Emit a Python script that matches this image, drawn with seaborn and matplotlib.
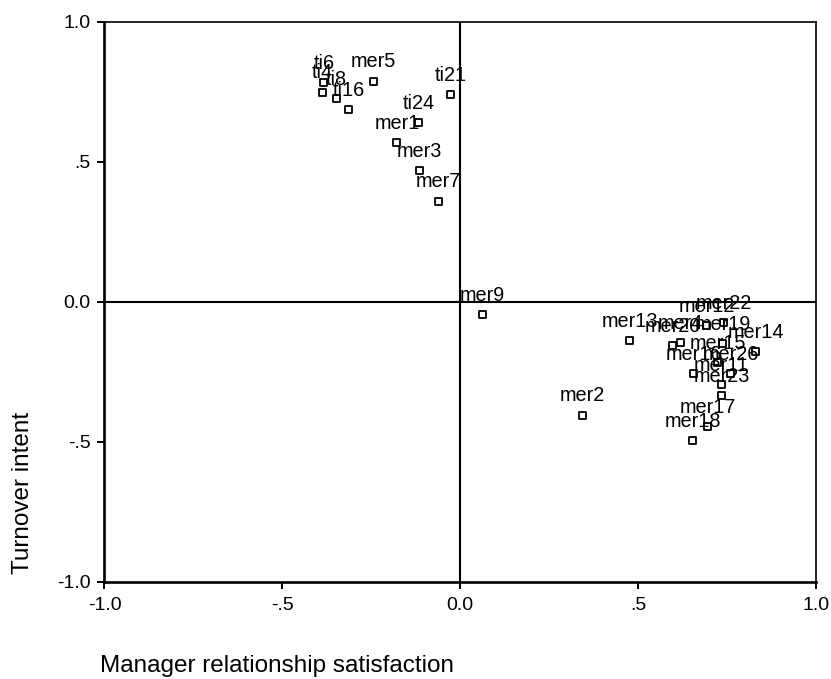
import matplotlib
matplotlib.use("Agg")
import matplotlib.pyplot as plt
import seaborn as sns
import pandas as pd
from matplotlib.ticker import FixedLocator, FixedFormatter

# ---- data ----
labels = ["ti6", "ti4", "ti8", "ti16", "mer5", "ti21", "ti24", "mer1", "mer3", "mer7",
          "mer9", "mer2", "mer13",
          "mer22", "mer12", "mer20", "mer4", "mer19", "mer14", "mer15", "mer16",
          "mer26", "mer11", "mer23", "mer17", "mer18"]
satisfaction = [-0.383, -0.387, -0.349, -0.313, -0.245, -0.026, -0.116, -0.178, -0.114, -0.061,
                0.062, 0.343, 0.477,
                0.741, 0.693, 0.597, 0.619, 0.738, 0.831, 0.724, 0.656,
                0.760, 0.735, 0.735, 0.696, 0.654]
turnover = [0.783, 0.749, 0.727, 0.687, 0.788, 0.741, 0.640, 0.568, 0.470, 0.360,
            -0.045, -0.405, -0.138,
            -0.074, -0.085, -0.156, -0.145, -0.149, -0.178, -0.217, -0.256,
            -0.256, -0.296, -0.335, -0.446, -0.496]
tick_values = [-1.0, -0.5, 0.0, 0.5, 1.0]
tick_labels = ["-1.0", "-.5", "0.0", ".5", "1.0"]
x_title = "Manager relationship satisfaction"
y_title = "Turnover intent"

df = pd.DataFrame({"label": labels, "x": satisfaction, "y": turnover})

sns.set_theme(style="white")
plt.rcParams["font.family"] = ["Liberation Sans", "DejaVu Sans"]

fig = plt.figure(figsize=(8.31, 6.79), dpi=100)
ax = fig.add_axes([0.1257, 0.1429, 0.8562, 0.8247])

sns.scatterplot(data=df, x="x", y="y", marker="s", s=26, facecolor="none",
                edgecolor="black", linewidth=1.3, ax=ax, zorder=3)

for _, r in df.iterrows():
    ax.annotate(r["label"], (r["x"], r["y"]), xytext=(0, 10), textcoords="offset points",
                ha="center", va="baseline", fontsize=14.3, color="black", zorder=4)

ax.axhline(0, color="black", lw=1.5, zorder=2)
ax.axvline(0, color="black", lw=1.5, zorder=2)

ax.set_xlim(-1, 1)
ax.set_ylim(-1, 1)
ax.xaxis.set_major_locator(FixedLocator(tick_values))
ax.xaxis.set_major_formatter(FixedFormatter(tick_labels))
ax.yaxis.set_major_locator(FixedLocator(tick_values))
ax.yaxis.set_major_formatter(FixedFormatter(tick_labels))
ax.tick_params(axis="both", direction="out", length=5, width=1.4, colors="black",
               labelsize=14, bottom=True, left=True)
ax.tick_params(axis="x", pad=6)
ax.tick_params(axis="y", pad=5)

for side in ["left", "bottom"]:
    ax.spines[side].set_linewidth(1.9)
for side in ["top", "right"]:
    ax.spines[side].set_linewidth(1.2)
for sp in ax.spines.values():
    sp.set_color("black")
    sp.set_visible(True)

ax.set_xlabel(x_title, fontsize=17.5, color="black")
ax.set_ylabel(y_title, fontsize=17.5, color="black")
ax.xaxis.set_label_coords(-0.006, -0.15)
ax.xaxis.label.set_ha("left")
ax.xaxis.label.set_va("center")
ax.yaxis.set_label_coords(-0.1145, 0.159)
ax.yaxis.label.set_va("center")
ax.yaxis.label.set_ha("center")

fig.savefig("out.png", dpi=100, facecolor="white")
